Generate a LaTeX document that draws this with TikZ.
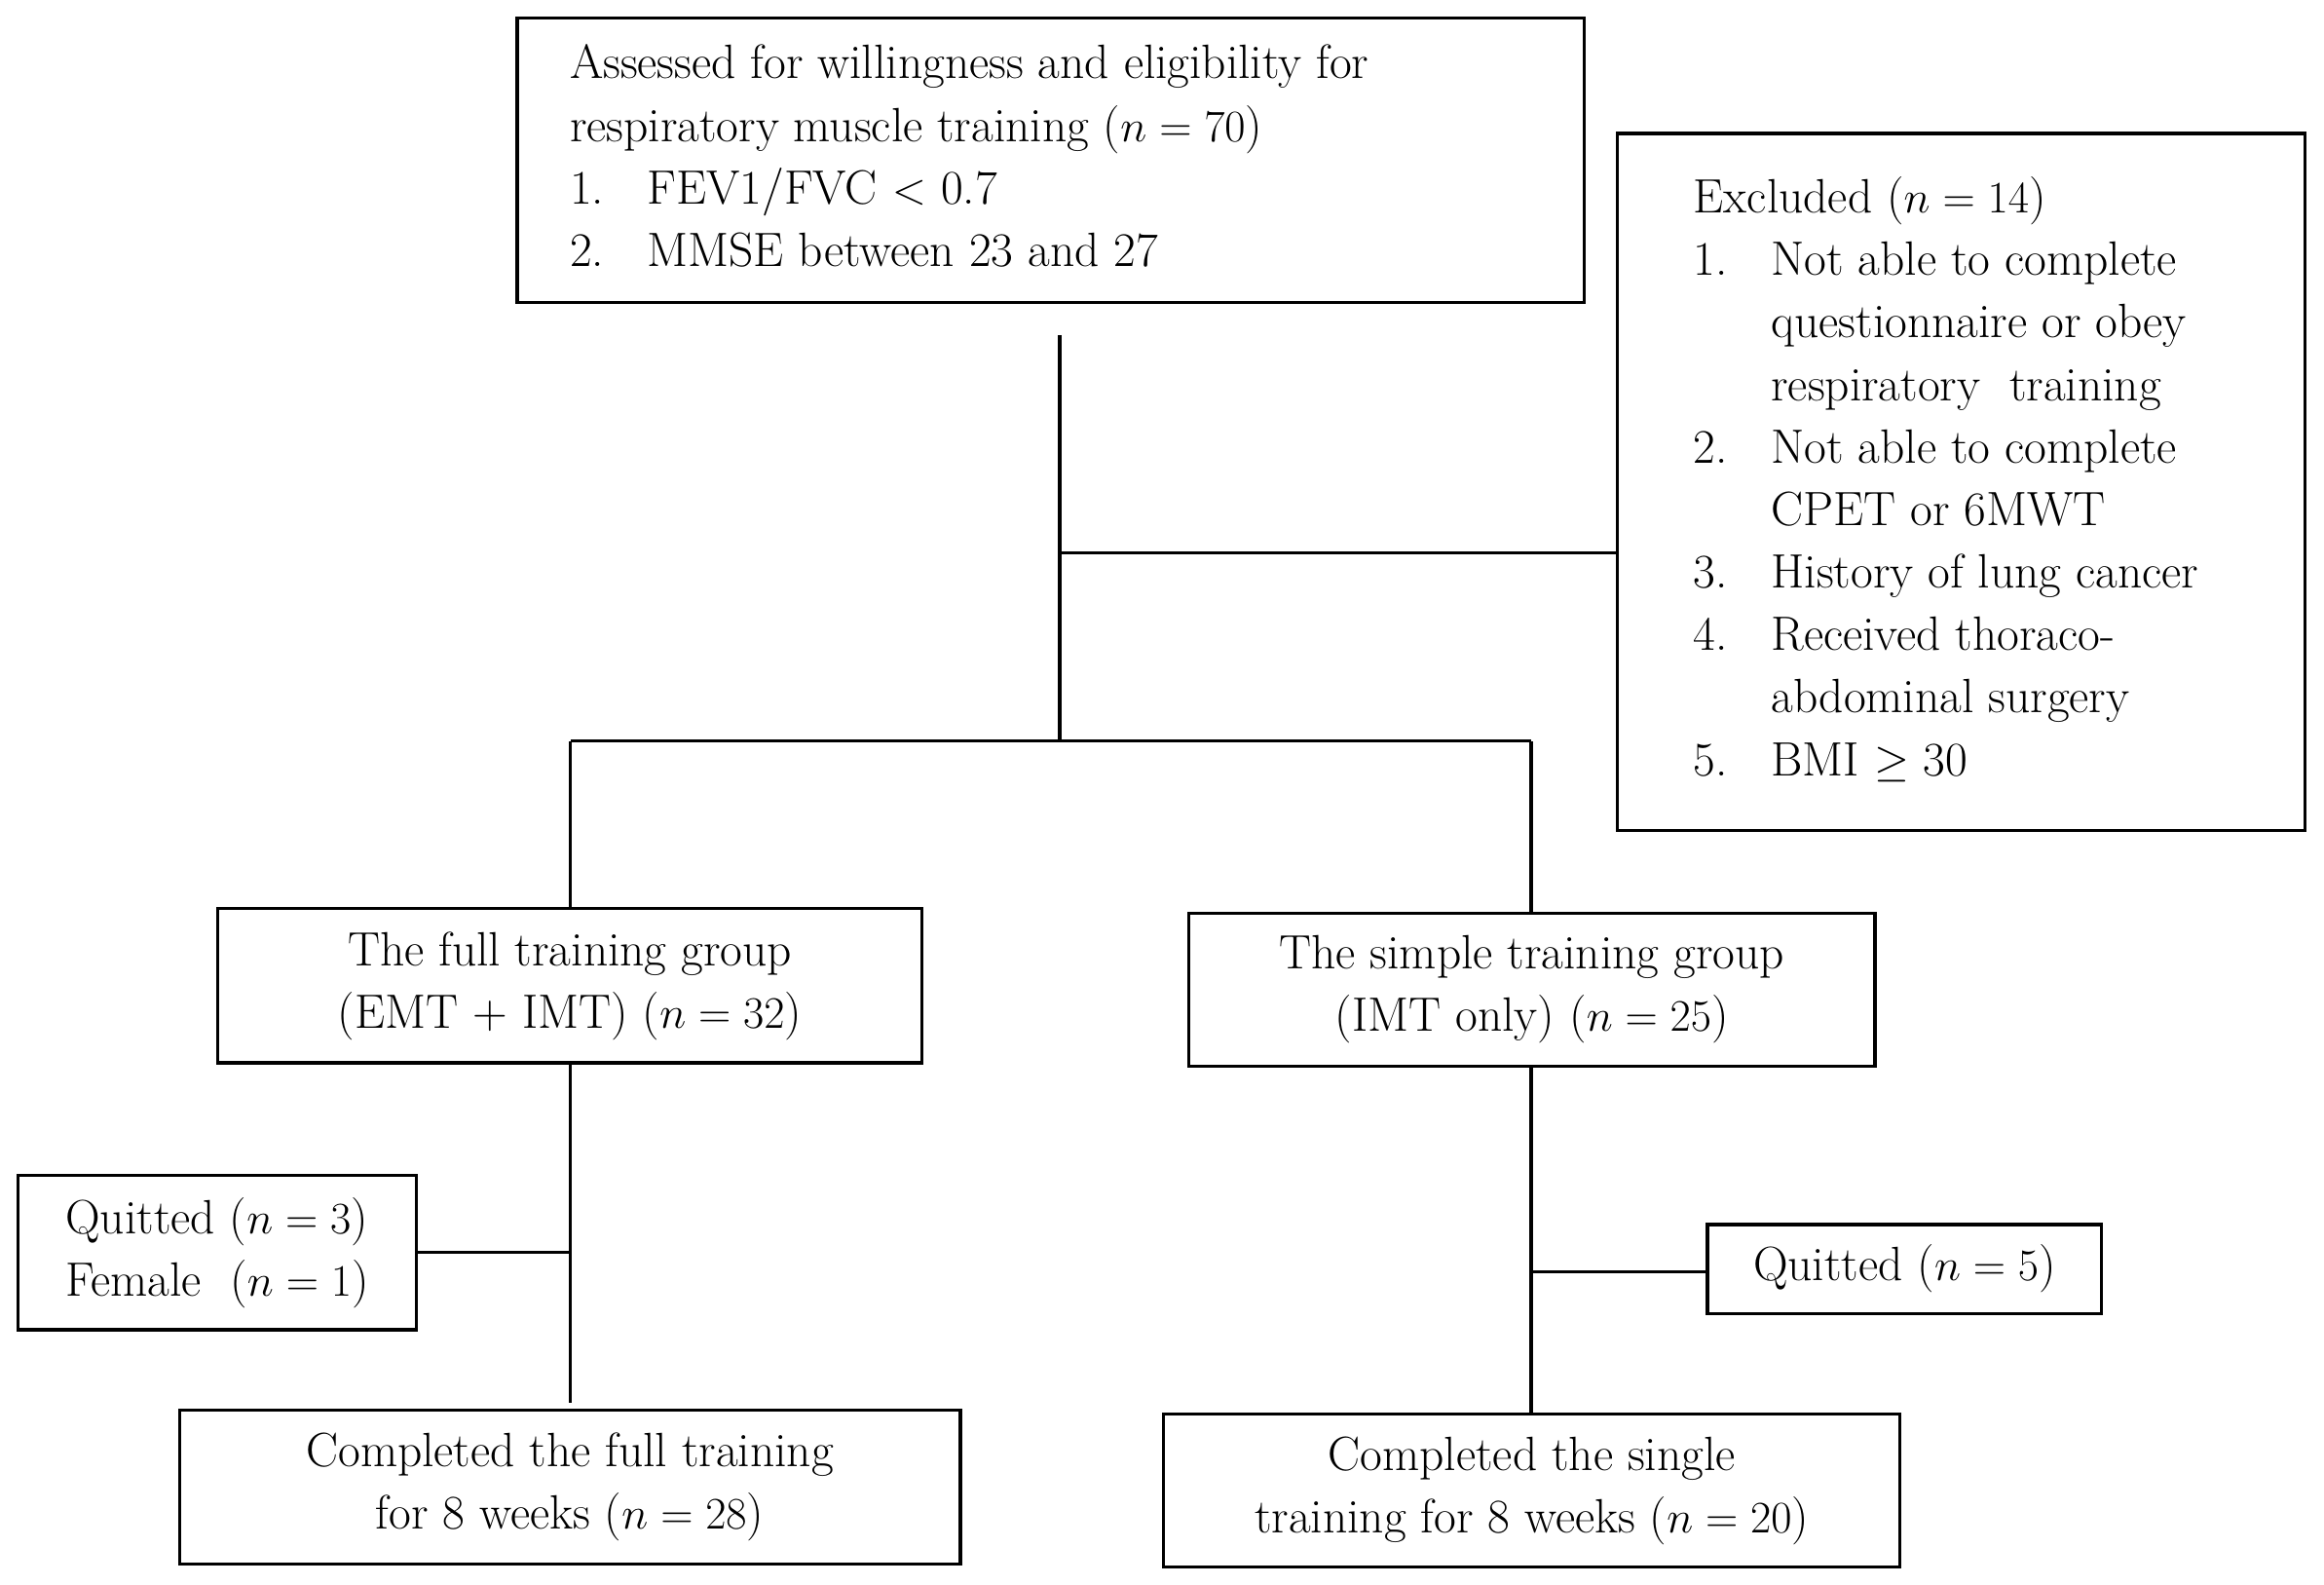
\documentclass[tikz,border=0pt]{standalone}
\begin{document}
\begin{tikzpicture}[x=0.02cm,y=-0.02cm,
  box/.style={draw,line width=1.2pt,inner sep=0pt,font=\fontsize{18.5}{24}\selectfont},
  ln/.style={line width=1.2pt}]
\useasboundingbox (0,0) rectangle (1568,1069);
\newcommand\bx[6]{\node[box,minimum width={(#3-#2)*0.02cm},minimum height={(#5-#4)*0.02cm},#6] (#1) at ({(#2+#3)/2},{(#4+#5)/2})}
\bx{top}{349}{1069}{12}{204}{align=left}{\begin{tabular}{@{}l@{\hspace{0.9em}}l@{}}\multicolumn{2}{@{}l@{}}{Assessed for willingness and eligibility for}\\
\multicolumn{2}{@{}l@{}}{respiratory muscle training ($n=70$)}\\
1.& FEV1/FVC $<$ 0.7\\ 2.& MMSE between 23 and 27\end{tabular}\hspace*{2.2cm}};
\bx{exc}{1091}{1555}{90}{560}{}{\begin{tabular}{@{}l@{\hspace{0.9em}}l@{}}\multicolumn{2}{@{}l@{}}{Excluded ($n=14$)}\\
1.& Not able to complete\\ & questionnaire or obey\\ & respiratory\ \ training\\
2.& Not able to complete\\ & CPET or 6MWT\\
3.& History of lung cancer\\
4.& Received thoraco-\\ & abdominal surgery\\
5.& BMI $\geq$ 30\end{tabular}\hspace*{0.4cm}};
\bx{full}{147}{622}{613}{717}{align=center}{The full training group\\(EMT + IMT) ($n=32$)};
\bx{simp}{802}{1265}{616}{719}{align=center}{The simple training group\\(IMT only) ($n=25$)};
\bx{ql}{12}{281}{793}{897}{align=left}{Quitted ($n=3$)\\Female\ \ ($n=1$)};
\bx{qr}{1152}{1418}{826}{886}{}{Quitted ($n=5$)};
\bx{cf}{121}{648}{951}{1055}{align=center}{Completed the full training\\for 8 weeks ($n=28$)};
\bx{cs}{785}{1282}{954}{1057}{align=center}{Completed the single\\training for 8 weeks ($n=20$)};
\coordinate (a) at (715,226);
\coordinate (b) at (715,373);
\coordinate (c) at (715,500);
\coordinate (l) at (385,500);
\coordinate (r) at (1033,500);
\coordinate (m1) at (385,845);
\coordinate (m2) at (1033,858);
\draw[ln] (a) -- (c);
\draw[ln] (b) -- (b -| exc.west);
\draw[ln] (l) -- (r);
\draw[ln] (l) -- (l |- full.north);
\draw[ln] (r) -- (r |- simp.north);
\draw[ln] (full.south -| l) -- (385,946);
\draw[ln] (m1) -- (m1 -| ql.east);
\draw[ln] (simp.south -| r) -- (r |- cs.north);
\draw[ln] (m2) -- (m2 -| qr.west);
\end{tikzpicture}
\end{document}
